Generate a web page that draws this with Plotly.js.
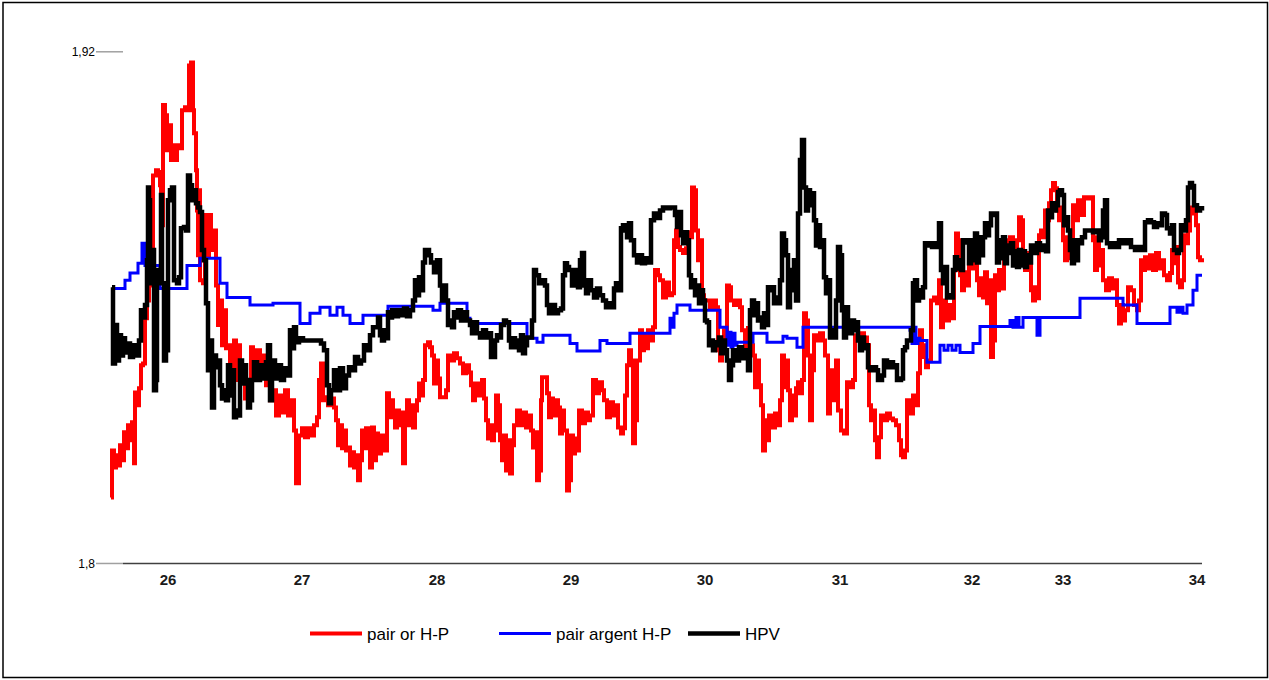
<!DOCTYPE html>
<html>
<head>
<meta charset="utf-8">
<script src="https://cdn.plot.ly/plotly-3.0.1.min.js"></script>
<style>
html,body{margin:0;padding:0;background:#fff;}
#chart{width:1269px;height:680px;}
</style>
</head>
<body>
<div id="chart"></div>
<script>
// x = sample index along the time axis; tick labels sit at these indices
const tickPos = [57, 191, 326, 460, 594, 729, 861, 952, 1086];
const tickLabels = ['26', '27', '28', '29', '30', '31', '32', '33', '34'];
const yTickVals = [1.8, 1.92];
const yTickText = ['1,8', '1,92'];
const seriesNames = ['pair or H-P', 'pair argent H-P', 'HPV'];

// pair or H-P  [index, value]
const redSeries = [[0,1.8155],[1,1.8265],[3,1.8225],[5,1.8254],[7,1.8230],[9,1.8277],[11,1.8242],[13,1.8308],[15,1.8270],[17,1.8324],[19,1.8289],[21,1.8331],[23,1.8235],[24,1.8401],[26,1.8371],[28,1.8411],[30,1.8465],[32,1.8469],[34,1.8575],[36,1.8617],[38,1.8652],[40,1.8657],[42,1.8910],[45,1.8922],[47,1.8918],[49,1.8887],[50,1.8793],[52,1.9075],[54,1.9051],[56,1.8969],[58,1.9028],[60,1.8946],[62,1.8981],[64,1.8946],[66,1.8981],[69,1.8974],[71,1.9063],[74,1.9070],[76,1.9063],[78,1.9168],[80,1.9175],[82,1.9063],[83,1.9009],[85,1.8922],[86,1.8828],[87,1.8723],[88,1.8875],[89,1.8664],[92,1.8657],[94,1.8817],[96,1.8723],[98,1.8817],[100,1.8735],[103,1.8781],[105,1.8652],[107,1.8559],[109,1.8617],[111,1.8512],[113,1.8594],[115,1.8505],[117,1.8512],[119,1.8418],[121,1.8476],[123,1.8523],[125,1.8430],[127,1.8512],[129,1.8441],[132,1.8453],[134,1.8387],[136,1.8430],[140,1.8507],[142,1.8495],[144,1.8430],[146,1.8500],[149,1.8441],[152,1.8488],[155,1.8418],[159,1.8383],[162,1.8406],[165,1.8347],[168,1.8394],[171,1.8354],[174,1.8406],[177,1.8347],[180,1.8383],[183,1.8312],[185,1.8188],[187,1.8188],[188,1.8300],[191,1.8317],[194,1.8296],[197,1.8317],[200,1.8300],[203,1.8324],[206,1.8343],[208,1.8430],[210,1.8469],[212,1.8383],[214,1.8390],[217,1.8371],[220,1.8387],[223,1.8366],[225,1.8336],[227,1.8277],[229,1.8324],[231,1.8270],[233,1.8312],[235,1.8265],[237,1.8272],[239,1.8230],[241,1.8261],[243,1.8225],[245,1.8254],[247,1.8195],[249,1.8242],[251,1.8312],[253,1.8270],[255,1.8317],[257,1.8277],[259,1.8225],[261,1.8319],[263,1.8242],[265,1.8305],[267,1.8258],[270,1.8300],[273,1.8265],[276,1.8399],[278,1.8343],[280,1.8383],[282,1.8359],[284,1.8319],[286,1.8359],[288,1.8324],[290,1.8354],[292,1.8235],[294,1.8336],[296,1.8383],[298,1.8324],[300,1.8371],[302,1.8319],[304,1.8359],[306,1.8383],[308,1.8422],[310,1.8394],[312,1.8430],[314,1.8512],[317,1.8519],[319,1.8507],[321,1.8488],[323,1.8422],[325,1.8476],[327,1.8434],[329,1.8390],[332,1.8390],[335,1.8406],[337,1.8488],[340,1.8476],[343,1.8493],[346,1.8481],[349,1.8469],[352,1.8446],[355,1.8465],[358,1.8448],[360,1.8418],[362,1.8383],[364,1.8422],[367,1.8394],[369,1.8418],[371,1.8430],[373,1.8387],[375,1.8336],[377,1.8293],[379,1.8324],[381,1.8289],[383,1.8312],[385,1.8394],[387,1.8371],[389,1.8289],[391,1.8242],[393,1.8300],[395,1.8218],[397,1.8289],[399,1.8211],[401,1.8277],[403,1.8324],[406,1.8359],[409,1.8324],[412,1.8354],[415,1.8319],[418,1.8347],[420,1.8312],[422,1.8272],[424,1.8308],[426,1.8195],[428,1.8218],[430,1.8383],[431,1.8437],[434,1.8437],[436,1.8399],[438,1.8343],[440,1.8387],[442,1.8347],[445,1.8383],[447,1.8366],[449,1.8305],[451,1.8359],[453,1.8312],[456,1.8171],[458,1.8195],[460,1.8300],[462,1.8258],[464,1.8293],[466,1.8265],[468,1.8359],[471,1.8329],[474,1.8354],[477,1.8336],[479,1.8347],[482,1.8430],[485,1.8399],[488,1.8425],[491,1.8406],[493,1.8383],[496,1.8343],[499,1.8378],[502,1.8347],[505,1.8371],[507,1.8319],[510,1.8305],[512,1.8317],[514,1.8394],[516,1.8465],[518,1.8500],[520,1.8476],[522,1.8282],[524,1.8336],[526,1.8476],[529,1.8547],[531,1.8500],[533,1.8535],[535,1.8505],[537,1.8547],[539,1.8523],[542,1.8554],[544,1.8688],[547,1.8676],[549,1.8664],[552,1.8624],[555,1.8659],[558,1.8629],[561,1.8634],[563,1.8758],[565,1.8781],[567,1.8742],[569,1.8735],[572,1.8728],[575,1.8739],[577,1.8777],[579,1.8765],[581,1.8882],[583,1.8875],[585,1.8781],[587,1.8711],[589,1.8758],[591,1.8629],[593,1.8617],[596,1.8617],[599,1.8601],[602,1.8617],[605,1.8601],[607,1.8500],[609,1.8476],[611,1.8507],[613,1.8547],[616,1.8652],[618,1.8648],[620,1.8617],[623,1.8606],[626,1.8617],[629,1.8601],[631,1.8547],[634,1.8507],[637,1.8552],[639,1.8512],[642,1.8488],[644,1.8413],[646,1.8476],[648,1.8418],[650,1.8371],[652,1.8265],[654,1.8336],[656,1.8289],[658,1.8347],[661,1.8319],[664,1.8352],[667,1.8324],[669,1.8383],[671,1.8488],[673,1.8413],[675,1.8476],[677,1.8406],[679,1.8336],[681,1.8394],[683,1.8347],[685,1.8411],[687,1.8425],[689,1.8399],[691,1.8430],[693,1.8587],[695,1.8570],[697,1.8488],[699,1.8336],[701,1.8453],[703,1.8535],[706,1.8523],[709,1.8540],[712,1.8523],[714,1.8488],[717,1.8352],[719,1.8453],[722,1.8383],[725,1.8476],[727,1.8359],[730,1.8312],[733,1.8305],[736,1.8425],[739,1.8413],[742,1.8430],[744,1.8535],[747,1.8530],[750,1.8540],[753,1.8530],[756,1.8512],[758,1.8371],[760,1.8336],[762,1.8359],[764,1.8289],[766,1.8249],[768,1.8296],[770,1.8347],[773,1.8336],[776,1.8352],[779,1.8340],[782,1.8336],[785,1.8324],[788,1.8289],[790,1.8254],[792,1.8249],[794,1.8265],[796,1.8383],[799,1.8352],[802,1.8394],[805,1.8371],[807,1.8446],[809,1.8547],[811,1.8484],[813,1.8512],[815,1.8460],[817,1.8476],[820,1.8617],[823,1.8624],[826,1.8610],[828,1.8664],[830,1.8554],[832,1.8617],[835,1.8570],[838,1.8606],[841,1.8575],[843,1.8688],[845,1.8774],[847,1.8758],[849,1.8676],[851,1.8641],[853,1.8683],[856,1.8652],[858,1.8746],[860,1.8692],[862,1.8751],[864,1.8706],[866,1.8664],[868,1.8629],[870,1.8669],[872,1.8624],[874,1.8683],[876,1.8610],[878,1.8664],[880,1.8484],[882,1.8523],[884,1.8676],[886,1.8641],[888,1.8688],[890,1.8645],[893,1.8758],[896,1.8742],[899,1.8765],[902,1.8746],[904,1.8711],[906,1.8758],[908,1.8812],[910,1.8805],[912,1.8723],[914,1.8688],[916,1.8728],[918,1.8699],[920,1.8641],[922,1.8617],[924,1.8648],[926,1.8622],[928,1.8770],[930,1.8781],[932,1.8765],[934,1.8828],[936,1.8805],[938,1.8845],[940,1.8875],[942,1.8892],[944,1.8880],[946,1.8828],[948,1.8805],[950,1.8835],[952,1.8758],[954,1.8711],[956,1.8765],[958,1.8716],[960,1.8758],[962,1.8840],[964,1.8805],[967,1.8852],[970,1.8817],[973,1.8859],[976,1.8856],[979,1.8859],[982,1.8758],[984,1.8688],[986,1.8765],[988,1.8699],[990,1.8735],[992,1.8664],[995,1.8641],[998,1.8669],[1001,1.8645],[1004,1.8664],[1006,1.8606],[1008,1.8563],[1010,1.8606],[1012,1.8570],[1014,1.8594],[1017,1.8648],[1020,1.8641],[1023,1.8606],[1026,1.8594],[1028,1.8617],[1030,1.8711],[1032,1.8688],[1034,1.8718],[1037,1.8692],[1039,1.8723],[1042,1.8688],[1045,1.8728],[1048,1.8692],[1050,1.8711],[1053,1.8676],[1056,1.8664],[1059,1.8681],[1061,1.8735],[1063,1.8704],[1065,1.8742],[1067,1.8659],[1069,1.8648],[1071,1.8664],[1073,1.8770],[1075,1.8751],[1077,1.8781],[1079,1.8828],[1081,1.8835],[1083,1.8821],[1085,1.8793],[1087,1.8718],[1089,1.8711],[1091,1.8716]];

// pair argent H-P  [index, value] (step line)
const blueSeries = [[1,1.8645],[14,1.8664],[19,1.8681],[27,1.8704],[31,1.8751],[34,1.8699],[49,1.8645],[76,1.8699],[89,1.8716],[109,1.8657],[116,1.8624],[139,1.8606],[162,1.8610],[189,1.8563],[199,1.8587],[209,1.8601],[219,1.8582],[226,1.8601],[232,1.8582],[239,1.8563],[252,1.8582],[277,1.8603],[322,1.8594],[329,1.8610],[356,1.8575],[359,1.8563],[416,1.8528],[426,1.8519],[432,1.8535],[459,1.8516],[466,1.8498],[489,1.8523],[496,1.8516],[519,1.8540],[559,1.8575],[561,1.8554],[563,1.8587],[566,1.8606],[579,1.8594],[609,1.8554],[616,1.8512],[618,1.8542],[620,1.8507],[622,1.8540],[624,1.8512],[626,1.8519],[642,1.8540],[656,1.8519],[672,1.8533],[676,1.8528],[686,1.8507],[692,1.8554],[799,1.8547],[801,1.8516],[803,1.8554],[805,1.8516],[807,1.8528],[809,1.8523],[816,1.8472],[829,1.8512],[833,1.8500],[837,1.8512],[841,1.8500],[845,1.8512],[849,1.8495],[862,1.8516],[869,1.8556],[899,1.8570],[902,1.8554],[905,1.8577],[908,1.8554],[912,1.8577],[926,1.8535],[929,1.8577],[969,1.8622],[1012,1.8606],[1026,1.8563],[1059,1.8601],[1066,1.8589],[1069,1.8601],[1072,1.8587],[1076,1.8606],[1082,1.8641],[1086,1.8676],[1091,1.8676]];

// HPV  [index, value]
const blackSeries = [[1,1.8648],[2,1.8469],[4,1.8559],[6,1.8476],[8,1.8535],[10,1.8488],[12,1.8528],[14,1.8495],[16,1.8516],[19,1.8484],[22,1.8512],[25,1.8488],[28,1.8523],[30,1.8594],[32,1.8577],[34,1.8606],[36,1.8711],[37,1.8882],[38,1.8852],[39,1.8657],[41,1.8735],[43,1.8406],[45,1.8430],[46,1.8688],[48,1.8657],[50,1.8864],[51,1.8657],[53,1.8476],[55,1.8500],[57,1.8852],[59,1.8875],[61,1.8882],[63,1.8664],[66,1.8657],[68,1.8671],[70,1.8786],[73,1.8789],[75,1.8781],[77,1.8910],[79,1.8887],[81,1.8852],[83,1.8875],[85,1.8845],[87,1.8835],[89,1.8824],[91,1.8735],[93,1.8711],[95,1.8610],[97,1.8453],[99,1.8523],[101,1.8366],[103,1.8488],[105,1.8460],[107,1.8476],[109,1.8418],[111,1.8387],[113,1.8406],[115,1.8383],[117,1.8465],[119,1.8394],[121,1.8453],[123,1.8343],[125,1.8359],[127,1.8347],[129,1.8476],[131,1.8422],[133,1.8465],[135,1.8430],[137,1.8366],[139,1.8383],[141,1.8430],[143,1.8472],[146,1.8430],[149,1.8465],[152,1.8434],[155,1.8472],[157,1.8512],[159,1.8383],[161,1.8476],[164,1.8434],[167,1.8465],[170,1.8430],[173,1.8458],[176,1.8441],[179,1.8547],[181,1.8505],[183,1.8554],[185,1.8519],[188,1.8528],[192,1.8523],[196,1.8523],[201,1.8523],[206,1.8523],[210,1.8516],[213,1.8500],[216,1.8418],[218,1.8376],[220,1.8406],[223,1.8453],[226,1.8406],[229,1.8458],[232,1.8411],[235,1.8441],[238,1.8460],[241,1.8453],[244,1.8484],[247,1.8469],[250,1.8476],[253,1.8512],[256,1.8500],[259,1.8535],[262,1.8554],[265,1.8554],[267,1.8577],[269,1.8535],[271,1.8523],[273,1.8547],[275,1.8528],[277,1.8589],[279,1.8577],[281,1.8594],[284,1.8580],[287,1.8594],[290,1.8582],[293,1.8598],[296,1.8580],[299,1.8594],[302,1.8617],[304,1.8664],[306,1.8629],[308,1.8671],[310,1.8641],[312,1.8706],[314,1.8735],[316,1.8735],[318,1.8723],[320,1.8706],[323,1.8683],[326,1.8711],[329,1.8652],[331,1.8617],[333,1.8652],[335,1.8617],[337,1.8559],[339,1.8570],[341,1.8554],[343,1.8589],[345,1.8577],[347,1.8594],[350,1.8570],[353,1.8589],[356,1.8570],[359,1.8559],[361,1.8540],[363,1.8566],[366,1.8540],[369,1.8530],[372,1.8547],[375,1.8530],[378,1.8540],[380,1.8484],[382,1.8484],[384,1.8523],[386,1.8535],[388,1.8530],[390,1.8559],[393,1.8570],[395,1.8566],[398,1.8523],[400,1.8507],[402,1.8528],[404,1.8507],[406,1.8523],[408,1.8500],[410,1.8535],[412,1.8493],[414,1.8512],[416,1.8530],[419,1.8530],[421,1.8570],[423,1.8688],[425,1.8676],[428,1.8657],[431,1.8664],[434,1.8652],[436,1.8606],[438,1.8587],[441,1.8606],[444,1.8587],[447,1.8594],[450,1.8598],[452,1.8676],[454,1.8704],[456,1.8695],[458,1.8688],[461,1.8652],[464,1.8688],[467,1.8648],[469,1.8711],[471,1.8728],[473,1.8652],[475,1.8634],[477,1.8664],[480,1.8641],[483,1.8624],[486,1.8645],[489,1.8629],[492,1.8617],[495,1.8601],[498,1.8610],[501,1.8601],[503,1.8645],[505,1.8657],[507,1.8641],[510,1.8786],[512,1.8793],[514,1.8781],[516,1.8765],[518,1.8798],[520,1.8758],[523,1.8723],[526,1.8706],[529,1.8723],[531,1.8704],[534,1.8716],[537,1.8706],[540,1.8805],[543,1.8821],[546,1.8810],[549,1.8828],[552,1.8835],[556,1.8833],[559,1.8835],[562,1.8835],[564,1.8817],[566,1.8789],[568,1.8824],[570,1.8770],[572,1.8751],[574,1.8777],[576,1.8758],[578,1.8676],[580,1.8648],[582,1.8664],[584,1.8629],[586,1.8652],[588,1.8610],[590,1.8641],[592,1.8617],[594,1.8570],[596,1.8566],[598,1.8512],[600,1.8523],[602,1.8500],[604,1.8519],[606,1.8512],[608,1.8530],[610,1.8493],[612,1.8523],[614,1.8500],[616,1.8476],[618,1.8430],[620,1.8465],[622,1.8500],[625,1.8476],[628,1.8507],[631,1.8481],[634,1.8500],[637,1.8453],[639,1.8594],[641,1.8617],[643,1.8582],[645,1.8610],[647,1.8570],[649,1.8577],[651,1.8554],[653,1.8587],[655,1.8559],[657,1.8648],[659,1.8641],[661,1.8648],[663,1.8610],[665,1.8624],[667,1.8610],[669,1.8664],[671,1.8774],[673,1.8758],[675,1.8723],[677,1.8601],[679,1.8688],[681,1.8641],[683,1.8711],[685,1.8617],[687,1.8821],[689,1.8946],[691,1.8993],[693,1.8882],[695,1.8828],[697,1.8875],[699,1.8840],[701,1.8868],[703,1.8805],[705,1.8746],[707,1.8793],[709,1.8742],[711,1.8758],[713,1.8671],[715,1.8634],[717,1.8664],[719,1.8530],[721,1.8547],[723,1.8530],[725,1.8617],[727,1.8742],[729,1.8723],[731,1.8594],[733,1.8530],[735,1.8601],[737,1.8559],[739,1.8540],[741,1.8570],[743,1.8547],[745,1.8566],[747,1.8523],[749,1.8500],[751,1.8530],[753,1.8505],[755,1.8512],[757,1.8460],[759,1.8453],[762,1.8460],[765,1.8453],[767,1.8430],[769,1.8430],[771,1.8441],[773,1.8476],[776,1.8460],[779,1.8472],[782,1.8460],[784,1.8465],[786,1.8430],[788,1.8430],[790,1.8434],[792,1.8500],[794,1.8507],[796,1.8523],[798,1.8523],[800,1.8547],[802,1.8657],[804,1.8664],[806,1.8617],[808,1.8641],[810,1.8624],[812,1.8648],[814,1.8751],[816,1.8746],[818,1.8751],[821,1.8742],[824,1.8751],[826,1.8742],[828,1.8798],[830,1.8688],[832,1.8657],[834,1.8695],[836,1.8624],[838,1.8629],[840,1.8624],[842,1.8688],[844,1.8718],[846,1.8692],[848,1.8711],[850,1.8688],[852,1.8758],[854,1.8753],[856,1.8758],[858,1.8704],[860,1.8758],[862,1.8711],[864,1.8774],[866,1.8706],[868,1.8765],[870,1.8723],[872,1.8765],[874,1.8798],[876,1.8770],[878,1.8793],[880,1.8821],[882,1.8817],[884,1.8821],[886,1.8706],[888,1.8758],[890,1.8716],[892,1.8765],[894,1.8704],[896,1.8746],[898,1.8728],[900,1.8751],[902,1.8699],[904,1.8732],[906,1.8695],[908,1.8735],[910,1.8699],[912,1.8732],[914,1.8695],[916,1.8723],[918,1.8706],[920,1.8746],[923,1.8728],[926,1.8751],[929,1.8735],[932,1.8746],[935,1.8732],[937,1.8828],[939,1.8812],[941,1.8845],[943,1.8828],[945,1.8840],[947,1.8871],[949,1.8875],[951,1.8864],[953,1.8793],[955,1.8812],[957,1.8781],[959,1.8735],[961,1.8704],[963,1.8758],[965,1.8711],[967,1.8758],[969,1.8751],[971,1.8765],[974,1.8781],[978,1.8781],[982,1.8777],[986,1.8781],[988,1.8758],[990,1.8765],[992,1.8828],[994,1.8852],[996,1.8751],[999,1.8742],[1002,1.8751],[1005,1.8742],[1008,1.8758],[1012,1.8751],[1016,1.8758],[1020,1.8742],[1024,1.8735],[1028,1.8742],[1032,1.8735],[1034,1.8800],[1037,1.8805],[1040,1.8800],[1043,1.8789],[1046,1.8798],[1049,1.8793],[1051,1.8821],[1054,1.8817],[1056,1.8786],[1059,1.8774],[1061,1.8793],[1063,1.8735],[1066,1.8728],[1068,1.8735],[1070,1.8793],[1073,1.8781],[1075,1.8805],[1077,1.8882],[1079,1.8892],[1081,1.8885],[1083,1.8840],[1086,1.8828],[1089,1.8833],[1091,1.8828]];

const FONT = '"Liberation Sans", Arial, sans-serif';

const traces = [
  {x: redSeries.map(p => p[0]), y: redSeries.map(p => p[1]), name: seriesNames[0],
   type: 'scatter', mode: 'lines', line: {color: '#ff0000', width: 4, shape: 'hv'}},
  {x: blueSeries.map(p => p[0]), y: blueSeries.map(p => p[1]), name: seriesNames[1],
   type: 'scatter', mode: 'lines', line: {color: '#0000ff', width: 3, shape: 'hv'}},
  {x: blackSeries.map(p => p[0]), y: blackSeries.map(p => p[1]), name: seriesNames[2],
   type: 'scatter', mode: 'lines', line: {color: '#000000', width: 4.5, shape: 'hv'}}
];

const W = 1269, H = 680, ML = 96, MR = 59, MT = 39, MB = 108;
const PW = W - ML - MR, PH = H - MT - MB;
const px = v => (v - ML) / PW;         // page x -> paper x
const py = v => (H - MB - v) / PH;     // page y -> paper y

const layout = {
  width: W, height: H,
  margin: {l: ML, r: MR, t: MT, b: MB, pad: 0},
  paper_bgcolor: '#ffffff', plot_bgcolor: '#ffffff',
  font: {family: FONT, color: '#000000'},
  showlegend: true,
  legend: {orientation: 'h', x: px(305), xanchor: 'left', y: py(634), yanchor: 'middle',
           font: {family: FONT, size: 17, color: '#000000'}, itemwidth: 52,
           entrywidth: 122, entrywidthmode: 'pixels', bgcolor: 'rgba(0,0,0,0)'},
  xaxis: {range: [-15, 1099], tickmode: 'array', tickvals: tickPos, ticktext: tickLabels,
          ticks: '', showgrid: false, zeroline: false, showline: false, fixedrange: true,
          ticklabelstandoff: -3,
          tickfont: {family: FONT, size: 15, weight: 'bold', color: '#1a1a1a'}},
  yaxis: {range: [1.798, 1.923], tickmode: 'array', tickvals: yTickVals, ticktext: yTickText,
          ticks: '', showgrid: false, zeroline: false, showline: false, fixedrange: true,
          tickfont: {family: FONT, size: 12, color: '#000000'}},
  shapes: [
    {type: 'line', xref: 'paper', yref: 'y', x0: 0, x1: px(123), y0: yTickVals[1], y1: yTickVals[1],
     line: {color: '#a0a0a0', width: 1.5}},
    {type: 'line', xref: 'paper', yref: 'y', x0: 0, x1: px(123), y0: yTickVals[0], y1: yTickVals[0],
     line: {color: '#a0a0a0', width: 1.5}},
    {type: 'line', xref: 'paper', yref: 'y', x0: px(123), x1: px(1202), y0: yTickVals[0], y1: yTickVals[0],
     line: {color: '#404040', width: 1.5}},
    {type: 'rect', xref: 'paper', yref: 'paper', x0: px(3), x1: px(1267.5), y0: py(2.5), y1: py(677.5),
     line: {color: '#000000', width: 1.5}, fillcolor: 'rgba(0,0,0,0)', layer: 'above'}
  ]
};

Plotly.newPlot('chart', traces, layout, {displayModeBar: false, staticPlot: true});
</script>
</body>
</html>
